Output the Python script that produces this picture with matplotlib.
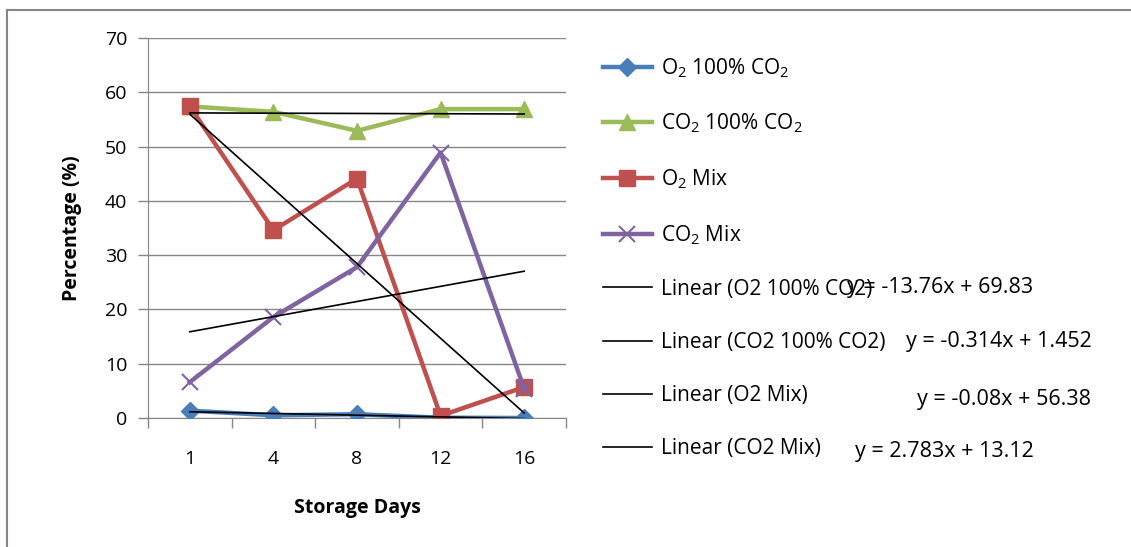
import matplotlib
matplotlib.use("Agg")
import matplotlib.pyplot as plt
import numpy as np
from matplotlib.lines import Line2D

FONT = 'Open Sans'
plt.rcParams['font.family'] = [FONT, 'DejaVu Sans']
plt.rcParams['mathtext.fontset'] = 'custom'
plt.rcParams['mathtext.rm'] = FONT
plt.rcParams['mathtext.it'] = FONT

days = ["1", "4", "8", "12", "16"]
o2_100 = [1.35, 0.5, 0.7, 0.05, 0.0]
co2_100 = [57.4, 56.4, 52.9, 56.9, 56.9]
o2_mix = [57.4, 34.6, 44.1, 0.4, 5.7]
co2_mix = [6.6, 18.6, 27.8, 48.9, 5.4]

series_labels = ["O$_2$ 100% CO$_2$", "CO$_2$ 100% CO$_2$", "O$_2$ Mix", "CO$_2$ Mix"]
trend_labels = ["Linear (O2 100% CO2)", "Linear (CO2 100% CO2)", "Linear (O2 Mix)", "Linear (CO2 Mix)"]
equations = ["y = -13.76x + 69.83", "y = -0.314x + 1.452", "y = -0.08x + 56.38", "y = 2.783x + 13.12"]

colors = ["#4A7EBB", "#9BBB59", "#C0504D", "#8064A2"]
markers = ["D", "^", "s", "x"]
msizes = [9, 11, 11, 11]

W, H = 1131, 547
fig = plt.figure(figsize=(W / 100, H / 100), dpi=100)
ax = fig.add_axes([148 / W, 1 - 418 / H, (566 - 148) / W, (418 - 38) / H])

x = np.arange(1, len(days) + 1)
all_series = [o2_100, co2_100, o2_mix, co2_mix]
handles = []
for s, c, m, ms in zip(all_series, colors, markers, msizes):
    kw = dict(markeredgewidth=1.5) if m == "x" else dict(markeredgecolor=c)
    ln, = ax.plot(x, s, color=c, lw=3.2, marker=m, markersize=ms, zorder=3, **kw)
    handles.append(ln)

trend_handles = []
for s in all_series:
    k, b = np.polyfit(x, s, 1)
    ax.plot(x, k * x + b, color="black", lw=1.2, zorder=4)
    trend_handles.append(Line2D([], [], color="black", lw=1.2))

ax.set_xlim(0.5, len(days) + 0.5)
ax.set_ylim(0, 70)
ax.set_yticks(np.arange(0, 71, 10))
ax.set_xticks(x)
ax.set_xticklabels(days)
ax.set_xticks(np.arange(0.5, len(days) + 1, 1), minor=True)
ax.tick_params(axis="x", which="major", length=0, pad=23, labelsize=14)
ax.tick_params(axis="x", which="minor", length=7, color="#868686", width=1, direction="out")
ax.tick_params(axis="y", length=7, color="#868686", width=1, direction="out", labelsize=14, pad=8)
ax.grid(axis="y", color="#868686", lw=1)
ax.set_axisbelow(True)
for sp in ["top", "right"]:
    ax.spines[sp].set_visible(False)
ax.spines["left"].set_color("#868686")
ax.spines["bottom"].set_color("#868686")
ax.set_ylabel("Percentage (%)", fontsize=14, fontweight="bold", labelpad=16)
ax.set_xlabel("Storage Days", fontsize=14, fontweight="bold", labelpad=22)

leg = fig.legend(handles + trend_handles, series_labels + trend_labels,
                 loc="upper left", bbox_to_anchor=(603 / W, 1 - 56 / H),
                 frameon=False, fontsize=15, handlelength=2.35, handletextpad=0.42,
                 labelspacing=1.54, borderaxespad=0, borderpad=0)

eq_pos = [(847, 287), (906, 342), (917, 400), (855, 451)]
for (px, py), t in zip(eq_pos, equations):
    fig.text(px / W, 1 - py / H, t, fontsize=15.5, va="center", ha="left")

# chart area border
fig.add_artist(Line2D([7 / W, 7 / W], [0, 1 - 10 / H], color="#868686", lw=1.5, transform=fig.transFigure))
fig.add_artist(Line2D([7 / W, 1], [1 - 10 / H, 1 - 10 / H], color="#868686", lw=1.5, transform=fig.transFigure))

fig.savefig("out.png", dpi=100)
